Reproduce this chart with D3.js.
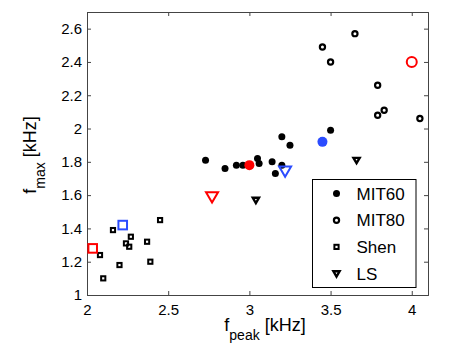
<!DOCTYPE html>
<html>
<head>
<meta charset="utf-8">
<script src="https://cdn.jsdelivr.net/npm/d3@7"></script>
<style>
body { margin: 0; background: #fff; }
svg { display: block; font-family: "Liberation Sans", Arial, sans-serif; }
</style>
</head>
<body>
<svg id="chart"></svg>
<script>
// data
var mit60X = [2.73, 2.85, 2.92, 2.96, 3.05, 3.06, 3.14, 3.20, 3.16, 3.20, 3.25, 3.50];
var mit60Y = [1.81, 1.76, 1.78, 1.78, 1.82, 1.79, 1.80, 1.78, 1.73, 1.95, 1.90, 1.99];

var mit80X = [3.45, 3.65, 3.50, 3.79, 3.79, 3.83, 4.05];
var mit80Y = [2.49, 2.57, 2.40, 2.26, 2.08, 2.11, 2.06];

var shenX = [2.16, 2.27, 2.24, 2.26, 2.37, 2.45, 2.20, 2.39, 2.08, 2.10];
var shenY = [1.39, 1.35, 1.31, 1.29, 1.32, 1.45, 1.18, 1.20, 1.24, 1.10];

var lsX = [3.04, 3.66];
var lsY = [1.57, 1.81];

// highlighted points, one per series (MIT60, MIT80, Shen, LS)
var redX = [3.00, 4.00, 2.035, 2.77];
var redY = [1.78, 2.40, 1.28, 1.59];
var blueX = [3.45, null, 2.22, 3.22];
var blueY = [1.92, null, 1.42, 1.745];

var seriesNames = ["MIT60", "MIT80", "Shen", "LS"];
var xTicks = [2, 2.5, 3, 3.5, 4];
var yTicks = [1, 1.2, 1.4, 1.6, 1.8, 2, 2.2, 2.4, 2.6];

var W = 463, H = 349;
var margin = {top: 12, right: 35, bottom: 54, left: 87};
var width = W - margin.left - margin.right;
var height = H - margin.top - margin.bottom;

var svg = d3.select("#chart").attr("width", W).attr("height", H);
var g = svg.append("g").attr("transform", "translate(" + margin.left + "," + margin.top + ")");

var x = d3.scaleLinear().domain([2, 4.1]).range([0, width]);
var y = d3.scaleLinear().domain([1, 2.7]).range([height, 0]);

var axisCol = "#444";
var red = "#ff0000", blue = "#2b4cff";

// axes, ticks inward on all four sides
var fmt = function(d){ return d3.format("")(d); };
g.append("g").attr("transform", "translate(0," + height + ")")
  .call(d3.axisBottom(x).tickValues(xTicks).tickSize(-4).tickPadding(9).tickFormat(fmt));
g.append("g")
  .call(d3.axisLeft(y).tickValues(yTicks).tickSize(-4).tickPadding(5).tickFormat(fmt));
g.append("g")
  .call(d3.axisTop(x).tickValues(xTicks).tickSize(-4).tickFormat(""));
g.append("g").attr("transform", "translate(" + width + ",0)")
  .call(d3.axisRight(y).tickValues(yTicks).tickSize(-4).tickFormat(""));

g.selectAll(".domain").attr("stroke", axisCol);
g.selectAll(".tick line").attr("stroke", axisCol);
g.selectAll(".tick text").attr("fill", "#000").style("font-size", "15px")
  .style("font-family", "'Liberation Sans', Arial, sans-serif");

// marker shapes
function drawMarker(sel, kind, size, color, sw) {
  if (kind == "dot") {
    sel.append("circle").attr("r", size).attr("fill", color);
  } else if (kind == "ring") {
    sel.append("circle").attr("r", size).attr("fill", "none")
      .attr("stroke", color).attr("stroke-width", sw);
  } else if (kind == "square") {
    sel.append("rect").attr("x", -size).attr("y", -size)
      .attr("width", size * 2).attr("height", size * 2)
      .attr("fill", "none").attr("stroke", color).attr("stroke-width", sw);
  } else if (kind == "tri") {
    var s = size;
    sel.append("path")
      .attr("d", "M" + (-s) + "," + (-s * 0.75) + "L" + s + "," + (-s * 0.75) + "L0," + (s * 0.95) + "Z")
      .attr("fill", "none").attr("stroke", color).attr("stroke-width", sw)
      .attr("stroke-linejoin", "miter");
  }
}

function plotSeries(xs, ys, kind, size, color, sw) {
  var pts = xs.map(function(d, i){ return [d, ys[i]]; })
    .filter(function(d){ return d[0] != null; });
  g.append("g").selectAll("g")
    .data(pts)
    .enter()
    .append("g")
    .attr("transform", function(d){ return "translate(" + x(d[0]) + "," + y(d[1]) + ")"; })
    .each(function(){ drawMarker(d3.select(this), kind, size, color, sw); });
}

var kinds = ["dot", "ring", "square", "tri"];
var smallSize = [3.5, 2.6, 2.1, 3.1];
var smallStroke = [0, 2.2, 2, 2.4];
plotSeries(mit60X, mit60Y, "dot", smallSize[0], "#000", smallStroke[0]);
plotSeries(mit80X, mit80Y, "ring", smallSize[1], "#000", smallStroke[1]);
plotSeries(shenX, shenY, "square", smallSize[2], "#000", smallStroke[2]);
plotSeries(lsX, lsY, "tri", smallSize[3], "#000", smallStroke[3]);

// highlighted (bigger) markers
var bigSize = [5, 5, 4.3, 6];
kinds.forEach(function(k, i){
  plotSeries([redX[i]], [redY[i]], k, bigSize[i], red, 2);
  plotSeries([blueX[i]], [blueY[i]], k, bigSize[i], blue, 2);
});

// legend
var leg = svg.append("g").attr("transform", "translate(312.5,179.5)");
leg.append("rect").attr("width", 103.5).attr("height", 108)
  .attr("fill", "#fff").attr("stroke", "#000").attr("stroke-width", 1);
seriesNames.forEach(function(name, i){
  var row = leg.append("g").attr("transform", "translate(0," + (14 + i * 26.7) + ")");
  drawMarker(row.append("g").attr("transform", "translate(24,0)"), kinds[i], smallSize[i], "#000", smallStroke[i]);
  row.append("text").attr("x", 44).attr("y", 6).style("font-size", "17px").text(name);
});

// axis labels
var xl = svg.append("text").attr("x", 265).attr("y", 331)
  .attr("text-anchor", "middle").style("font-size", "18px");
xl.append("tspan").text("f");
xl.append("tspan").attr("dy", 9).style("font-size", "14px").text("peak");
xl.append("tspan").attr("dy", -9).text(" [kHz]");

var yl = svg.append("text").attr("transform", "translate(36,155) rotate(-90)")
  .attr("text-anchor", "middle").style("font-size", "18px");
yl.append("tspan").text("f");
yl.append("tspan").attr("dy", 9).style("font-size", "14px").text("max");
yl.append("tspan").attr("dy", -9).text(" [kHz]");
</script>
</body>
</html>
